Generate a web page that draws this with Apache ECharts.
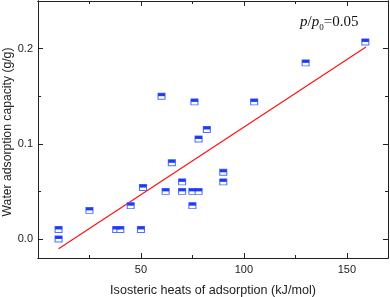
<!DOCTYPE html>
<html><head><meta charset="utf-8">
<script src="https://cdn.jsdelivr.net/npm/echarts@6/dist/echarts.min.js"></script>
<style>html,body{margin:0;padding:0;background:#fff}#c{width:390px;height:297px}</style>
</head><body><div id="c"></div>
<script>
var heats = [10, 10, 25, 38, 40, 45, 50, 51, 60, 62, 65, 70, 70, 75, 75, 76, 78, 78, 82, 90, 90, 105, 130, 159];
var capacity = [0.01, 0.0, 0.03, 0.01, 0.01, 0.035, 0.01, 0.054, 0.15, 0.05, 0.08, 0.06, 0.05, 0.05, 0.035, 0.144, 0.05, 0.105, 0.115, 0.07, 0.06, 0.144, 0.185, 0.207];
var fitX = [10, 159.3];
var fitY = [-0.0102, 0.2017];
var xMajorTicks = [50, 100, 150];
var xMinorTicks = [25, 75, 125];
var yMajorTicks = [0, 0.1, 0.2];
var yMinorTicks = [0.05, 0.15];
var xName = 'Isosteric heats of adsorption (kJ/mol)';
var yName = 'Water adsorption capacity (g/g)';

var pts = heats.map(function (x, i) { return [x, capacity[i]]; });
var fit = fitX.map(function (x, i) { return [x, fitY[i]]; });
var font = 'Liberation Sans, Arial, sans-serif';
var lineC = '#222';

function xAx(pos, ticks, len, labels, extra) {
  var o = {
    type: 'value', position: pos, min: 0, max: 170,
    axisLine: { show: true, onZero: false, lineStyle: { color: lineC, width: 1 } },
    axisTick: { show: true, inside: true, length: len, customValues: ticks, lineStyle: { color: lineC } },
    axisLabel: { show: labels, customValues: ticks, color: '#222', fontSize: 11, fontFamily: font, margin: 6 },
    splitLine: { show: false }
  };
  return Object.assign(o, extra || {});
}
function yAx(pos, ticks, len, labels, extra) {
  var o = {
    type: 'value', position: pos, min: -0.02, max: 0.25,
    axisLine: { show: true, onZero: false, lineStyle: { color: lineC, width: 1 } },
    axisTick: { show: true, inside: true, length: len, customValues: ticks, lineStyle: { color: lineC } },
    axisLabel: { show: labels, customValues: ticks, color: '#222', fontSize: 11, fontFamily: font, margin: 5,
      formatter: function (v) { return v.toFixed(1); } },
    splitLine: { show: false }
  };
  return Object.assign(o, extra || {});
}

var chart = echarts.init(document.getElementById('c'), null, { renderer: 'canvas' });
chart.setOption({
  animation: false,
  backgroundColor: '#fff',
  grid: { left: 38, right: 2, top: 1, bottom: 39, containLabel: false, outerBoundsMode: 'none' },
  xAxis: [
    xAx('bottom', xMajorTicks, 5, true, { name: xName, nameLocation: 'middle', nameGap: 26, nameMoveOverlap: false,
      nameTextStyle: { fontSize: 12.6, fontFamily: font, color: '#222' } }),
    xAx('bottom', xMinorTicks, 3, false),
    xAx('top', xMajorTicks, 5, false),
    xAx('top', xMinorTicks, 3, false)
  ],
  yAxis: [
    yAx('left', yMajorTicks, 5, true, { name: yName, nameLocation: 'middle', nameGap: 24, nameMoveOverlap: false,
      nameTextStyle: { fontSize: 12.2, fontFamily: font, color: '#222', padding: [0, 5, 0, 0] } }),
    yAx('left', yMinorTicks, 3, false),
    yAx('right', yMajorTicks, 5, false),
    yAx('right', yMinorTicks, 3, false)
  ],
  series: [
    { type: 'line', data: fit, xAxisIndex: 0, yAxisIndex: 0, symbol: 'none',
      lineStyle: { color: '#ff1010', width: 1.2 }, z: 2 },
    { type: 'scatter', data: pts, xAxisIndex: 0, yAxisIndex: 0, symbol: 'rect', symbolSize: [7, 6],
      itemStyle: { color: '#ffffff', borderColor: '#4f6fff', borderWidth: 1, opacity: 1 }, z: 3 },
    { type: 'scatter', data: pts, xAxisIndex: 0, yAxisIndex: 0, symbol: 'rect', symbolSize: [7, 3],
      symbolOffset: [0, -1.5],
      itemStyle: { color: '#1f3cf5', opacity: 1 }, z: 4 }
  ],
  graphic: [{
    type: 'text', left: 300, top: 15,
    style: {
      text: '{i|p}{n|/}{i|p}{s|0}{n|=0.05}',
      rich: {
        i: { fontFamily: 'Liberation Serif, Times New Roman, serif', fontStyle: 'italic', fontSize: 15, fill: '#111', lineHeight: 20, verticalAlign: 'middle' },
        n: { fontFamily: 'Liberation Serif, Times New Roman, serif', fontSize: 15, fill: '#111', lineHeight: 20, verticalAlign: 'middle' },
        s: { fontFamily: 'Liberation Serif, Times New Roman, serif', fontSize: 9, fill: '#111', lineHeight: 20, verticalAlign: 'bottom' }
      }
    }
  }]
});
</script></body></html>
